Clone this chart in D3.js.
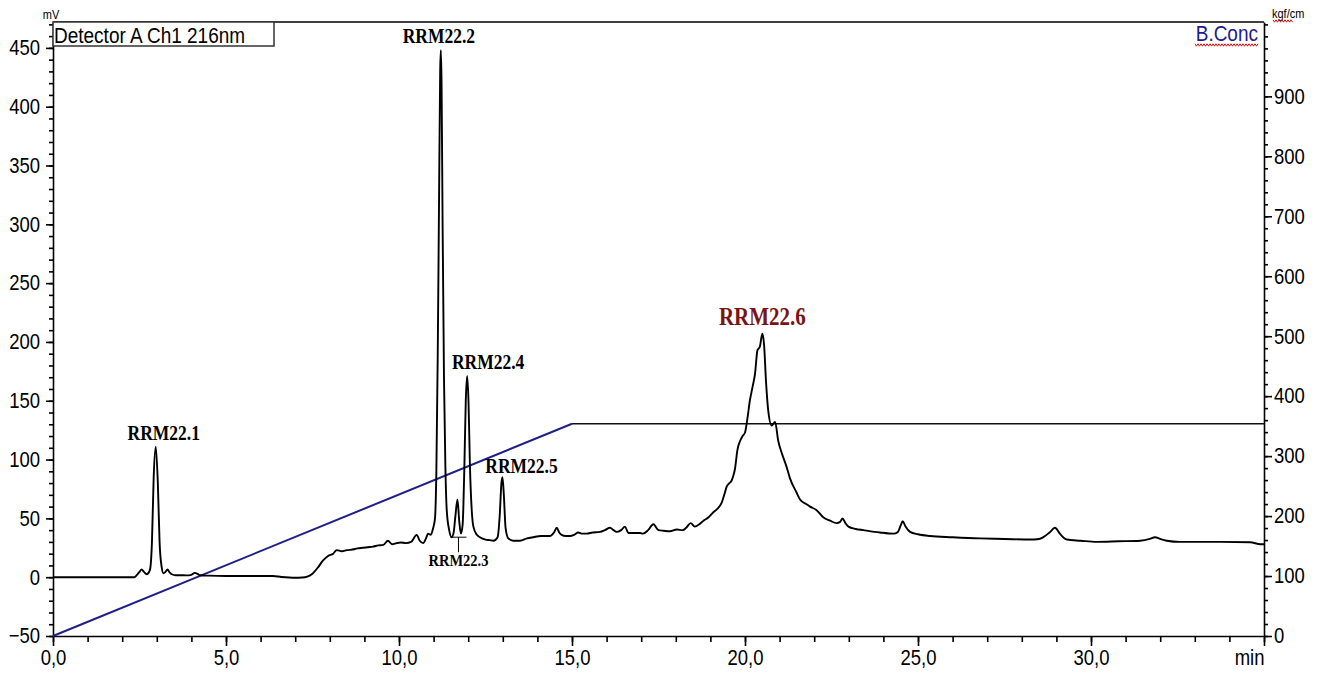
<!DOCTYPE html>
<meta charset="utf-8">
<style>
  body { margin: 0; background: #fff; }
  svg { display: block; }
</style>
<body>
<div id="chart"></div>
<script src="https://d3js.org/d3.v7.min.js"></script>
<script>

// detector trace: retention time (min) vs signal (mV)
const retentionTime = [
  0, 0.5, 1, 1.5, 2, 2.35, 2.42, 2.5, 2.56, 2.63, 2.71, 2.8, 2.86, 2.91, 2.97, 3.03, 3.08, 3.14, 3.19, 3.25,
  3.31, 3.37, 3.43, 3.55, 3.67, 3.85, 4.0, 4.1, 4.18, 4.25, 4.5, 5.0, 5.5, 6.0, 6.36, 6.6, 7.0, 7.2, 7.35, 7.5,
  7.65, 7.8, 7.95, 8.1, 8.2, 8.35, 8.49, 8.65, 8.8, 8.96, 9.1, 9.25, 9.4, 9.55, 9.68, 9.8, 9.93, 10.05, 10.2, 10.35,
  10.51, 10.6, 10.7, 10.78, 10.84, 10.92, 10.98, 11.04, 11.08, 11.12, 11.16, 11.19, 11.21, 11.23, 11.26, 11.3, 11.34, 11.38, 11.45, 11.52,
  11.58, 11.63, 11.69, 11.74, 11.79, 11.84, 11.89, 11.93, 11.97, 12.01, 12.05, 12.1, 12.15, 12.25, 12.34, 12.5, 12.62, 12.73, 12.85, 12.91,
  12.96, 12.99, 13.03, 13.08, 13.16, 13.3, 13.5, 13.7, 13.88, 14.1, 14.36, 14.48, 14.56, 14.63, 14.7, 14.82, 14.94, 15.06, 15.18, 15.3,
  15.42, 15.6, 15.81, 15.95, 16.1, 16.2, 16.29, 16.42, 16.53, 16.63, 16.8, 16.97, 17.05, 17.2, 17.35, 17.5, 17.65, 17.83, 18.03, 18.2,
  18.3, 18.43, 18.55, 18.68, 18.8, 18.95, 19.08, 19.2, 19.32, 19.42, 19.47, 19.55, 19.61, 19.66, 19.71, 19.78, 19.86, 19.93, 20.0, 20.07,
  20.14, 20.22, 20.29, 20.36, 20.43, 20.5, 20.55, 20.61, 20.67, 20.77, 20.87, 20.96, 21.08, 21.2, 21.3, 21.49, 21.59, 21.78, 21.88, 22.07,
  22.26, 22.46, 22.65, 22.75, 22.82, 22.9, 22.99, 23.2, 23.42, 23.9, 24.29, 24.42, 24.5, 24.56, 24.64, 24.77, 25.0, 25.35, 26.0, 26.79,
  27.5, 28.24, 28.5, 28.62, 28.8, 28.96, 29.1, 29.3, 29.7, 30.16, 30.8, 31.42, 31.7, 31.85, 32.0, 32.19, 32.57, 33.5, 34.6, 34.9, 35
];
const signal = [
  0, 0, 0, 0, 0, 0, 1.7, 4.5, 6.5, 4.5, 2.5, 6, 30, 85, 111, 80, 30, 8.7, 3.4, 4.5,
  6.5, 4, 2.5, 1.7, 1.7, 1.5, 2, 3.7, 2.8, 1.7, 1.3, 1, 1, 1, 1, 0.2, -0.5, -0.3, 0.5, 3,
  8, 14, 18, 20, 23, 22, 23, 23.5, 24.5, 25, 25.5, 26, 27, 27.5, 31, 28, 29, 29.5, 29, 30,
  36, 31, 29, 33, 37, 36, 41, 50, 90, 190, 330, 430, 448, 420, 300, 170, 95, 57, 40, 34,
  38, 52, 66, 48, 37, 45, 95, 150, 171, 148, 95, 58, 43, 36, 34, 32, 31.5, 31, 34, 52,
  80, 85, 70, 42, 33, 31, 31, 33, 34, 35, 35, 38, 42, 38, 36, 35, 35, 36, 38, 37,
  37, 38, 38.5, 40, 42, 40, 38.5, 40, 43, 37.6, 37.6, 37.6, 37, 40, 45, 40, 39.5, 39, 40.5, 40,
  42, 46, 43, 45, 48, 51, 55, 58, 63, 72, 77, 80, 82, 86, 92, 108, 116, 120, 123, 135,
  150, 162, 173, 193, 196, 207, 198, 165, 142, 129, 132, 116, 104, 94, 84, 72, 66, 62, 60, 57,
  51, 48, 46, 47, 50, 46, 43, 41, 40, 38, 37, 38.5, 44, 47.5, 43, 38.5, 36.5, 35, 34, 33,
  32.5, 32, 32.5, 34, 38, 42, 37, 32, 31, 30, 30.5, 31, 32.5, 34, 32.5, 31, 30, 30, 29.7, 28, 28
];

// solvent B concentration programme
const gradientTime = [0, 15, 35];
const gradientConc = [0, 354, 354];

// peak annotations
const peakNames = ["RRM22.1", "RRM22.2", "RRM22.3", "RRM22.4", "RRM22.5", "RRM22.6"];
const peakTimes = [2.97, 11.21, 11.69, 11.97, 12.99, 20.5];

// axis ticks
const xTicks = [0, 5, 10, 15, 20, 25, 30, 35];
const leftTicks = [-50, 0, 50, 100, 150, 200, 250, 300, 350, 400, 450];
const rightTicks = [0, 100, 200, 300, 400, 500, 600, 700, 800, 900];

const width = 1325, height = 675;
const margin = {top: 22, right: 61, bottom: 39, left: 53};
const SY = 1.15; // text in the scan is a bit taller than wide

const svg = d3.select("#chart").append("svg")
    .attr("width", width)
    .attr("height", height);

const x = d3.scaleLinear().domain([0, 35]).range([margin.left, width - margin.right]);
const yL = d3.scaleLinear().domain([-50, 472]).range([height - margin.bottom, margin.top]);
const yR = d3.scaleLinear().domain([0, 1024]).range([height - margin.bottom, margin.top]);

const sans = "'Liberation Sans', Arial, sans-serif";
const serif = "'Liberation Serif', 'Times New Roman', serif";

function styleAxis(g) {
  g.selectAll("path, line").attr("stroke", "#000").attr("stroke-width", 1.6);
  g.selectAll("text")
      .attr("font-family", sans)
      .attr("font-size", "18.5px")
      .attr("fill", "#000")
      .attr("transform", "scale(1," + SY + ")");
}

// minor ticks first
svg.append("g")
    .attr("transform", "translate(0," + (height - margin.bottom) + ")")
    .call(d3.axisBottom(x).tickValues(d3.range(0, 36, 1)).tickSize(6).tickFormat(""))
    .call(g => g.select(".domain").remove())
    .call(styleAxis);
svg.append("g")
    .attr("transform", "translate(" + margin.left + ",0)")
    .call(d3.axisLeft(yL).tickValues(d3.range(-50, 471, 10)).tickSize(4).tickFormat(""))
    .call(g => g.select(".domain").remove())
    .call(styleAxis);
svg.append("g")
    .attr("transform", "translate(" + (width - margin.right) + ",0)")
    .call(d3.axisRight(yR).tickValues(d3.range(0, 1021, 20)).tickSize(4).tickFormat(""))
    .call(g => g.select(".domain").remove())
    .call(styleAxis);

// major axes
const xAxis = svg.append("g")
    .attr("transform", "translate(0," + (height - margin.bottom) + ")")
    .call(d3.axisBottom(x).tickValues(xTicks).tickSize(10).tickSizeOuter(0).tickPadding(2)
      .tickFormat(d => d === 35 ? "min" : d3.format(".1f")(d).replace(".", ",")))
    .call(styleAxis);
xAxis.selectAll(".tick text").filter(d => d === 35).attr("text-anchor", "end");

svg.append("g")
    .attr("transform", "translate(" + margin.left + ",0)")
    .call(d3.axisLeft(yL).tickValues(leftTicks).tickSize(7).tickSizeOuter(0).tickPadding(6))
    .call(styleAxis);

svg.append("g")
    .attr("transform", "translate(" + (width - margin.right) + ",0)")
    .call(d3.axisRight(yR).tickValues(rightTicks).tickSize(8).tickSizeOuter(0).tickPadding(2))
    .call(styleAxis);

// top frame line
svg.append("line")
    .attr("x1", margin.left).attr("x2", width - margin.right)
    .attr("y1", margin.top).attr("y2", margin.top)
    .attr("stroke", "#000").attr("stroke-width", 1.6);

// gradient: ramp in navy, hold in black
const gradLine = d3.line().x(d => x(d[0])).y(d => yR(d[1]));
const grad = gradientTime.map((t, i) => [t, gradientConc[i]]);
svg.append("path")
    .attr("d", gradLine(grad.slice(0, 2)))
    .attr("fill", "none").attr("stroke", "#1f1f85").attr("stroke-width", 2);
svg.append("path")
    .attr("d", gradLine(grad.slice(1)))
    .attr("fill", "none").attr("stroke", "#111").attr("stroke-width", 1.5);

// chromatogram
const trace = retentionTime.map((t, i) => [t, signal[i]]);
svg.append("path")
    .attr("d", d3.line().x(d => x(d[0])).y(d => yL(d[1])).curve(d3.curveMonotoneX)(trace))
    .attr("fill", "none")
    .attr("stroke", "#000")
    .attr("stroke-width", 1.9)
    .attr("stroke-linejoin", "round");

// text with the vertical stretch of the scan
function label(px, py, txt, opts) {
  return svg.append("text")
      .attr("transform", "translate(" + px + "," + py + ") scale(1," + SY + ")")
      .attr("text-anchor", opts.anchor || "middle")
      .attr("font-family", opts.family || serif)
      .attr("font-weight", opts.weight || "normal")
      .attr("font-size", opts.size + "px")
      .attr("fill", opts.fill || "#000")
      .text(txt);
}

// peak labels, placed from the apex of each peak
const peakValue = t => signal[retentionTime.indexOf(t)];
const labelShift = {"RRM22.1": [8, -7], "RRM22.2": [-2, -7], "RRM22.4": [21, -7], "RRM22.5": [19, -4], "RRM22.6": [0, -9]};
peakNames.forEach((name, i) => {
  const px = x(peakTimes[i]), py = yL(peakValue(peakTimes[i]));
  if (name === "RRM22.3") {
    // small bracket under the peak
    const yb = yL(34);
    svg.append("line").attr("x1", px - 7).attr("x2", px + 9).attr("y1", yb).attr("y2", yb)
        .attr("stroke", "#000").attr("stroke-width", 1);
    svg.append("line").attr("x1", px + 1).attr("x2", px + 1).attr("y1", yb).attr("y2", yb + 15)
        .attr("stroke", "#000").attr("stroke-width", 1);
    label(px + 1, 566, name, {size: 14.5, weight: "bold"});
    return;
  }
  const s = labelShift[name];
  if (name === "RRM22.6") {
    label(px + s[0], py + s[1], name, {size: 21, weight: "bold", fill: "#7a1414"});
  } else {
    label(px + s[0], py + s[1], name, {size: 17.5, weight: "bold"});
  }
});

// detector legend box
svg.append("rect")
    .attr("x", margin.left).attr("y", margin.top)
    .attr("width", 221).attr("height", 24)
    .attr("fill", "#fff").attr("stroke", "#333").attr("stroke-width", 1.5);
label(margin.left + 1, 43, "Detector A Ch1 216nm", {family: sans, size: 19, anchor: "start"});

// unit labels
label(51, 19, "mV", {family: sans, size: 11});
label(1272, 18, "kgf/cm", {family: sans, size: 11, anchor: "start"});
label(1258, 41, "B.Conc", {family: sans, size: 19, anchor: "end", fill: "#1c1c8c"});

// red wavy underlines (spell-check marks in the scan)
function wavy(x0, x1, y0) {
  const pts = d3.range(x0, x1 + 0.1, 1.5).map((v, i) => [v, y0 + (i % 2 ? 1.2 : -1.2)]);
  svg.append("path").attr("d", d3.line()(pts))
      .attr("fill", "none").attr("stroke", "#d01010").attr("stroke-width", 1);
}
wavy(1195, 1258, 45);
wavy(1273, 1293, 21);

</script>
</body>
